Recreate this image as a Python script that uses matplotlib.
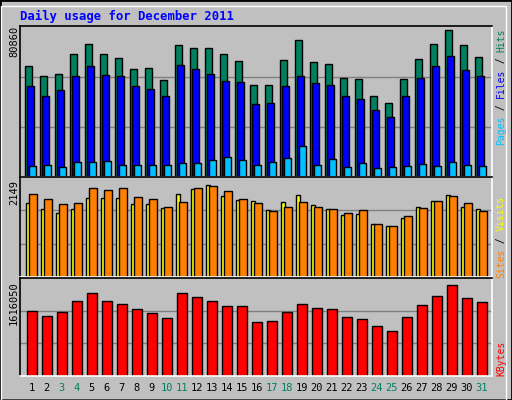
import matplotlib
matplotlib.use("Agg")
import matplotlib.pyplot as plt
import numpy as np

days = list(range(1, 32))
weekend = {3, 4, 10, 11, 17, 18, 24, 25, 31}
hits = [59800, 54400, 55500, 66200, 71600, 66200, 64000, 58100, 58700, 52200, 71100, 69500, 69500, 66200, 62500, 49600, 49600, 63000, 73800, 61900, 60800, 53400, 52800, 43700, 39900, 52800, 63500, 71600, 79100, 71100, 64600]
files = [49000, 43700, 46900, 54400, 59800, 54900, 54400, 49000, 47500, 43700, 60300, 58100, 55500, 51700, 51100, 39300, 39900, 49000, 54000, 50600, 49600, 43700, 42100, 36100, 32300, 43700, 53400, 59800, 65100, 57600, 54400]
pages = [5900, 6500, 5400, 8100, 8100, 8600, 6500, 6500, 6500, 6500, 7500, 7500, 9200, 10800, 9200, 6500, 8100, 10200, 16700, 6500, 9700, 5400, 7500, 4900, 5400, 5900, 7000, 5900, 8100, 6500, 5900]
sites = [1597, 1468, 1382, 1468, 1705, 1705, 1705, 1576, 1576, 1490, 1791, 1898, 1984, 1748, 1662, 1640, 1447, 1619, 1770, 1554, 1468, 1339, 1361, 1146, 1103, 1275, 1511, 1640, 1770, 1511, 1468]
visits = [1791, 1683, 1576, 1597, 1920, 1877, 1920, 1726, 1683, 1511, 1619, 1920, 1963, 1855, 1683, 1597, 1425, 1511, 1619, 1511, 1468, 1382, 1447, 1146, 1103, 1318, 1490, 1640, 1748, 1597, 1425]
kbytes = [1070000, 988000, 1053000, 1234000, 1365000, 1234000, 1185000, 1103000, 1037000, 955000, 1365000, 1299000, 1234000, 1152000, 1152000, 890000, 906000, 1053000, 1185000, 1119000, 1103000, 972000, 939000, 824000, 742000, 972000, 1168000, 1316000, 1496000, 1283000, 1217000]
max_top, max_mid, max_bot = 80860, 2149, 1616050

BG = "#C0C0C0"
fig = plt.figure(figsize=(5.12, 4.0), dpi=100, facecolor=BG)
W, H = 512, 400
mono = "DejaVu Sans Mono"

def ax_px(x0, y0, x1, y1):
    a = fig.add_axes([x0 / W, 1 - y1 / H, (x1 - x0) / W, (y1 - y0) / H])
    a.set_facecolor(BG)
    a.set_xlim(1 - 5.3 / 15, 1 + 466.7 / 15)
    a.set_xticks([]); a.set_yticks([])
    for s in ("left", "top"):
        a.spines[s].set_color("black")
    for s in ("right", "bottom"):
        a.spines[s].set_color("white")
    for s in a.spines.values():
        s.set_linewidth(1.2)
    return a

def grid(a, m):
    for f in (1/3, 2/3):
        a.axhline(m * f, color="#808080", lw=1, zorder=0)

d = np.array(days, dtype=float)
kw = dict(align="edge", edgecolor="black", linewidth=1)

a1 = ax_px(20, 26, 492, 177)
a1.set_ylim(0, max_top * 150.5 / 150)
grid(a1, max_top)
a1.bar(d, hits, 0.47, color="#00805F", **kw)
a1.bar(d + 0.13, files, 0.47, color="#0000FF", **kw)
a1.bar(d + 0.27, pages, 0.47, color="#00C0FF", **kw)

a2 = ax_px(20, 177, 492, 277)
a2.set_ylim(0, max_mid)
grid(a2, max_mid)
a2.bar(d + 0.03, sites, 0.3, color="#FFFF00", **kw)
a2.bar(d + 0.27, visits, 0.49, color="#FF8000", **kw)

a3 = ax_px(20, 278, 492, 376)
a3.set_ylim(0, max_bot)
grid(a3, max_bot)
a3.bar(d + 0.09, kbytes, 0.67, color="#FF0000", **kw)

for day in days:
    a3.text(day + 0.42, -0.12, str(day), transform=a3.get_xaxis_transform(),
            ha="center", va="center", fontsize=7.5, family=mono,
            color="#00805F" if day in weekend else "black")

def t(x, y, s, **k):
    fig.text(x / W, 1 - y / H, s, family=mono, **k)

t(20, 16, "Daily usage for December 2011", color="#0000FF", fontsize=8.8,
  fontweight="bold", ha="left", va="center")
t(14, 26, "80860", rotation=90, ha="center", va="top", fontsize=7.5)
t(14, 180, "2149", rotation=90, ha="center", va="top", fontsize=7.5)
t(14, 281, "1616050", rotation=90, ha="center", va="top", fontsize=7.5)

fs = 7
cw = 0.602 * fs * 100 / 72
def rlabel(top, parts):
    y = top
    for s, c in parts:
        t(501, y, s, rotation=90, ha="center", va="top", fontsize=fs, color=c)
        y += cw * len(s)

rlabel(28, [("Hits", "#00805F"), (" / ", "black"), ("Files", "#0000FF"),
            (" / ", "black"), ("Pages", "#00C0FF")])
rlabel(196, [("Visits", "#FFFF00"), (" / ", "black"), ("Sites", "#FF8000")])
rlabel(341, [("KBytes", "#FF0000")])

from matplotlib.patches import Rectangle
fig.add_artist(Rectangle((0, 0), 1, 1, transform=fig.transFigure, fill=False,
                         edgecolor="black", lw=2))
fig.add_artist(Rectangle((0.5 / W, 0.5 / H), (W - 7) / W, (H - 6) / H, transform=fig.transFigure,
                         fill=False, edgecolor="white", lw=1))

fig.savefig("out.png", dpi=100, facecolor=BG)
